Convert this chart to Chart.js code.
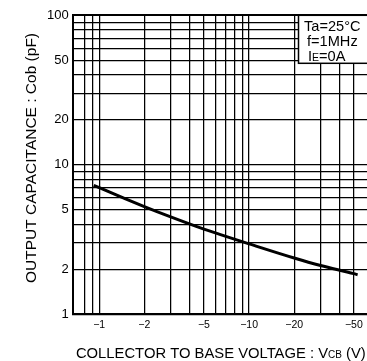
<!DOCTYPE html>
<html>
<head>
<meta charset="utf-8">
<script src="https://cdn.jsdelivr.net/npm/chart.js@4.4.0/dist/chart.umd.min.js"></script>
<style>
  html, body { margin: 0; padding: 0; background: #fff; overflow: hidden; }
  canvas { display: block; }
</style>
</head>
<body>
<canvas id="cob" width="367" height="361"></canvas>
<script>
// Output capacitance vs. collector-to-base voltage (magnitude of VCB, volts)
const vcbVolts      = [0.92, 1,    1.5,  2,    3,    5,    7,    10,   20,   30,   50,   53];
const cobPicofarads = [7.29, 7.03, 5.91, 5.25, 4.48, 3.71, 3.32, 2.96, 2.38, 2.12, 1.87, 1.84];

// Axis grid and label values
const xGridValues  = [0.8, 0.9, 1, 2, 3, 4, 5, 6, 7, 8, 9, 10, 20, 30, 40, 50];
const xLabelValues = [1, 2, 5, 10, 20, 50];
const yGridValues  = [1, 2, 3, 4, 5, 6, 7, 8, 9, 10, 20, 30, 40, 50, 60, 70, 80, 90, 100];
const yLabelValues = [1, 2, 5, 10, 20, 50, 100];

// Measurement conditions shown in the corner box
const conditionLines = [
  [{ t: 'Ta=25°C', small: false }],
  [{ t: 'f=1MHz', small: false }],
  [{ t: 'I', small: false }, { t: 'E', small: true }, { t: '=0A', small: false }]
];

const FONT = '"Liberation Sans", Arial, Helvetica, sans-serif';

function drawRuns(ctx, runs, x, y, big, small) {
  let cx = x;
  for (const r of runs) {
    ctx.font = (r.small ? small : big) + 'px ' + FONT;
    ctx.fillText(r.t, cx, y);
    cx += ctx.measureText(r.t).width;
  }
  return cx - x;
}
function runsWidth(ctx, runs, big, small) {
  let w = 0;
  for (const r of runs) {
    ctx.font = (r.small ? small : big) + 'px ' + FONT;
    w += ctx.measureText(r.t).width;
  }
  return w;
}

const decorations = {
  id: 'decorations',
  afterDraw(chart) {
    const ctx = chart.ctx;
    const area = chart.chartArea;
    ctx.save();
    ctx.textBaseline = 'alphabetic';
    ctx.textAlign = 'left';

    // conditions box in the upper right corner
    const bx = 298.5, by = area.top, bh = 48;
    ctx.fillStyle = '#fff';
    ctx.fillRect(bx, by, area.right + 10 - bx, bh);
    ctx.strokeStyle = '#000';
    ctx.lineWidth = 1.5;
    ctx.strokeRect(bx, by, area.right + 10 - bx, bh);
    ctx.fillStyle = '#000';
    const offsets = [[304, 30.7], [307, 46.3], [308, 60.7]];
    conditionLines.forEach((runs, i) => drawRuns(ctx, runs, offsets[i][0], offsets[i][1], 14.6, 10.5));

    // x-axis title with subscript-style "CB"
    const xTitle = [
      { t: 'COLLECTOR TO BASE VOLTAGE : V', small: false },
      { t: 'CB', small: true },
      { t: ' (V)', small: false }
    ];
    const w = runsWidth(ctx, xTitle, 14.8, 10);
    const cx = (area.left + area.right) / 2 + 1;
    drawRuns(ctx, xTitle, cx - w / 2, 357.7, 14.8, 10);

    // y-axis title, rotated
    ctx.translate(36, 158);
    ctx.rotate(-Math.PI / 2);
    ctx.textAlign = 'center';
    ctx.font = '15.5px ' + FONT;
    ctx.fillText('OUTPUT CAPACITANCE : Cob (pF)', 0, 0);
    ctx.restore();
  }
};

new Chart(document.getElementById('cob'), {
  type: 'line',
  data: {
    datasets: [{
      data: vcbVolts.map((v, i) => ({ x: v, y: cobPicofarads[i] })),
      borderColor: '#000',
      borderWidth: 3,
      pointRadius: 0,
      cubicInterpolationMode: 'monotone',
      fill: false
    }]
  },
  options: {
    responsive: false,
    animation: false,
    layout: { padding: { top: 15.3, right: 0, left: 0, bottom: 0 } },
    plugins: { legend: { display: false }, tooltip: { enabled: false } },
    scales: {
      x: {
        type: 'logarithmic',
        min: 0.666,
        max: 61.2,
        afterBuildTicks: (axis) => { axis.ticks = xGridValues.map(v => ({ value: v })); },
        afterFit: (axis) => { axis.height = 46.7; axis.paddingLeft = 0; axis.paddingRight = 0; },
        grid: { color: '#000', lineWidth: 1.25, drawTicks: false },
        border: { display: true, color: '#000', width: 2 },
        ticks: {
          autoSkip: false,
          maxRotation: 0,
          padding: 5,
          color: '#000',
          font: { family: FONT, size: 10.5 },
          callback: (value) => xLabelValues.includes(value) ? '\u2212' + value : ''
        }
      },
      y: {
        type: 'logarithmic',
        min: 1,
        max: 100,
        afterBuildTicks: (axis) => { axis.ticks = yGridValues.map(v => ({ value: v })); },
        afterFit: (axis) => { axis.width = 72.7; },
        grid: {
          color: '#000',
          lineWidth: (c) => (c.tick && c.tick.value === 100) ? 2 : 1.25,
          drawTicks: false
        },
        border: { display: true, color: '#000', width: 2 },
        ticks: {
          autoSkip: false,
          padding: 4,
          color: '#000',
          font: { family: FONT, size: 13 },
          callback: (value) => yLabelValues.includes(value) ? String(value) : ''
        }
      }
    }
  },
  plugins: [decorations]
});
</script>
</body>
</html>
